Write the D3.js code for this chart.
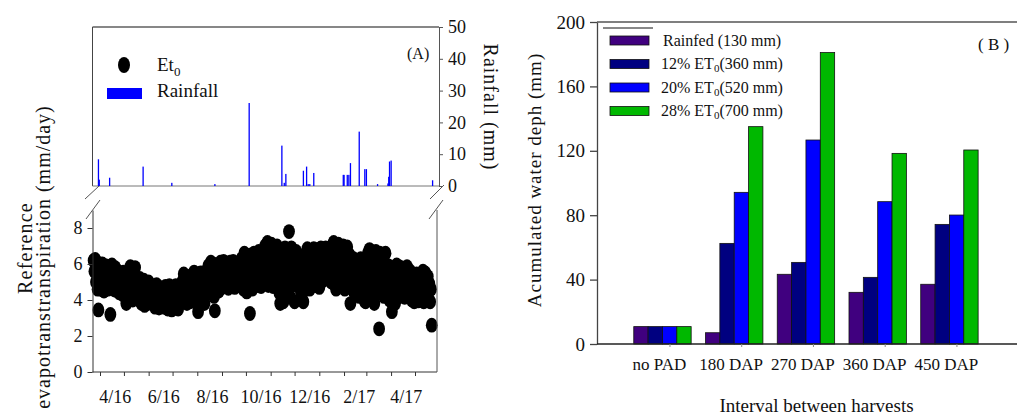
<!DOCTYPE html>
<html><head><meta charset="utf-8">
<script src="https://cdn.jsdelivr.net/npm/d3@7"></script>
<style>
body{margin:0;background:#fff}
svg{display:block;font-family:"Liberation Serif","Times New Roman",serif}
</style>
</head><body>
<svg id="c" width="1017" height="417"></svg>
<script>
// ---------------- DATA ----------------
const rainDates = ["2016-03-30","2016-03-31","2016-04-13","2016-05-25","2016-06-30","2016-08-23","2016-10-05","2016-11-15","2016-11-18","2016-11-20","2016-12-12","2016-12-16","2016-12-18","2016-12-20","2016-12-25","2017-01-31","2017-02-01","2017-02-05","2017-02-07","2017-02-09","2017-02-20","2017-02-27","2017-03-01","2017-03-15","2017-03-28","2017-03-29","2017-03-30","2017-04-01","2017-05-23"];
const rainValues = [8.4,2.0,2.6,6.1,1.0,0.6,26.1,12.7,1.0,3.8,4.8,6.1,0.6,0.6,4.1,3.5,3.5,3.5,3.5,7.2,17.1,5.3,5.3,0.6,0.8,2.9,7.7,8.0,1.8];

// daily reference evapotranspiration (mm/day), from 2016-03-24
const et0Start = "2016-03-24";
const et0StepDays = 1;
const et0Values = [
 6.2,5.6,6.25,5.0,5.8,4.6,3.45,5.3,6.0,
 4.6,5.5,6.0,5.1,4.5,5.7,4.9,5.9,5.3,4.6,5.8,5.0,
 3.2,5.5,5.95,4.8,5.3,4.55,5.8,5.1,4.7,5.6,
 5.0,4.4,5.5,4.8,5.2,4.3,5.55,4.6,5.0,5.4,3.8,4.5,5.1,
 5.5,4.2,5.85,4.7,5.3,4.0,5.6,4.9,5.8,4.4,5.2,4.6,
 5.0,4.0,5.2,4.5,3.8,4.8,4.2,5.1,3.7,4.6,4.9,4.1,3.8,5.0,4.4,3.9,4.7,4.3,
 4.8,3.9,4.5,3.6,4.2,4.85,3.8,4.4,3.55,4.7,4.1,3.7,4.6,4.0,3.6,4.3,
 4.75,3.9,4.4,3.5,4.1,4.8,3.7,4.3,3.45,4.6,4.0,3.6,4.5,4.8,3.8,4.2,3.5,4.7,4.0,3.9,
 4.4,5.0,3.9,5.45,4.6,4.1,5.2,3.8,4.8,5.3,4.3,3.9,5.0,4.5,
 5.4,4.2,5.55,4.8,3.9,5.1,4.5,3.35,5.3,4.6,5.5,4.0,4.9,5.5,4.3,3.8,5.2,4.7,5.5,
 5.0,5.9,4.4,5.5,6.1,4.8,5.3,6.0,4.2,3.4,5.6,4.6,5.9,5.1,4.5,5.7,
 6.1,5.3,4.7,5.8,6.15,5.0,5.5,4.8,6.0,5.6,4.65,5.2,6.1,5.7,4.9,5.4,6.15,5.0,4.7,5.9,5.3,6.0,4.8,5.5,6.1,5.1,
 4.9,6.3,5.5,4.6,6.6,5.9,5.1,4.45,6.2,5.6,4.8,3.25,6.5,5.3,4.6,5.9,6.6,5.0,6.2,5.5,
 4.8,6.1,6.7,5.4,5.9,4.75,6.4,5.2,6.7,5.7,
 7.0,5.6,6.5,7.2,4.8,6.0,6.8,5.3,7.1,6.3,4.75,5.8,6.9,5.1,6.5,7.0,
 6.5,5.2,4.4,3.8,5.9,4.7,6.2,
 3.9,5.5,6.9,4.5,6.2,5.0,6.6,7.8,4.2,5.8,6.9,4.8,6.4,5.4,3.9,6.0,6.7,
 6.5,4.8,5.9,6.4,5.2,4.4,6.2,5.6,3.9,5.0,6.5,4.6,6.0,
 6.85,5.3,6.3,4.6,6.7,5.8,5.0,6.5,6.85,5.5,4.8,6.2,6.8,5.2,5.9,4.7,6.4,
 6.9,5.8,5.05,6.6,6.2,5.4,6.9,6.0,5.2,6.5,6.8,5.6,6.3,5.0,6.7,6.1,
 7.2,5.2,6.4,4.6,6.9,5.8,7.1,5.0,6.2,6.8,4.8,5.6,7.0,
 6.9,4.6,6.3,5.4,6.95,4.9,5.8,6.5,3.8,5.1,6.0,
 5.8,6.3,4.4,5.5,6.2,4.9,5.2,6.0,4.2,5.7,6.3,4.6,5.0,6.1,5.4,3.95,3.9,5.9,4.8,
 6.6,5.2,6.8,4.5,6.2,5.6,4.2,6.5,3.8,5.0,6.7,4.6,5.9,
 5.6,2.4,6.6,4.4,6.1,5.2,6.4,4.2,5.8,6.6,4.8,5.4,
 4.6,5.9,4.0,5.4,4.9,3.35,5.3,4.2,5.8,3.8,5.0,5.95,4.5,
 4.8,5.85,4.2,5.5,5.8,4.4,5.1,5.7,4.15,5.3,4.7,5.85,4.9,5.4,4.3,5.6,5.0,
 4.0,5.4,4.6,3.9,5.3,4.9,5.45,4.3,3.95,5.1,4.5,5.4,4.1,
 4.2,5.6,3.9,5.0,5.5,4.3,4.7,5.3,4.0,4.9,3.9,4.6,
 2.6
];
const dateTickLabels = ["4/16","6/16","8/16","10/16","12/16","2/17","4/17"];
const dateLabelDates = ["2016-04-20","2016-06-20","2016-08-20","2016-10-20","2016-12-20","2017-02-20","2017-04-20"];
const rainTicks = [0,10,20,30,40,50];
const et0Ticks = [0,2,4,6,8];

const categories = ["no PAD","180 DAP","270 DAP","360 DAP","450 DAP"];
const seriesNames = ["Rainfed (130 mm)","12% ET0 (360 mm)","20% ET0 (520 mm)","28% ET0 (700 mm)"];
const rainfed = [10.8,7.0,43.3,32.1,37.1];
const et12 = [10.8,62.5,50.7,41.4,74.3];
const et20 = [10.8,94.2,126.7,88.4,80.1];
const et28 = [10.8,135,181,118.4,120.5];
const waterTicks = [0,40,80,120,160,200];

// ---------------- DRAW ----------------
const svg = d3.select("#c");
const parse = d3.utcParse("%Y-%m-%d");
const AX = "#333";

// Panel A scales
const x = d3.scaleUtc().domain([Date.UTC(2016,3,1), Date.UTC(2017,4,1)]).range([100,415]);
const yR = d3.scaleLinear().domain([0,50]).range([186,27]);
const yE = d3.scaleLinear().domain([0,9]).range([372,210]);
const L = 92.5, RT = 439, RB = 437;

// top panel frame
svg.append("line").attr("x1",L).attr("x2",RT).attr("y1",27).attr("y2",27).attr("stroke","#111").attr("stroke-width",1.2);
svg.append("line").attr("x1",L).attr("x2",L).attr("y1",27).attr("y2",186).attr("stroke","#444").attr("stroke-width",1);
svg.append("line").attr("x1",L).attr("x2",RT).attr("y1",186).attr("y2",186).attr("stroke","#777").attr("stroke-width",1);

// rainfall bars
const rain = rainDates.map((d,i)=>({d:parse(d), v:rainValues[i]}));
svg.append("g").selectAll("rect").data(rain).join("rect")
  .attr("x", d=>x(d.d)-0.6).attr("width",1.3)
  .attr("y", d=>yR(d.v)).attr("height", d=>yR(0)-yR(d.v))
  .attr("fill","#0000ff");

// right axis
const rAx = svg.append("g").attr("transform",`translate(${RT},0)`)
  .call(d3.axisRight(yR).tickValues(rainTicks).tickSize(4).tickPadding(5).tickSizeOuter(0));
rAx.select(".domain").attr("stroke","#555");
rAx.selectAll(".tick line").attr("stroke","#555");
rAx.selectAll("text").attr("font-size",18).attr("fill","#111").attr("font-family","Liberation Serif");

// bottom panel
const et = et0Values.map((v,i)=>({d:d3.utcDay.offset(parse(et0Start), i*et0StepDays), v}));
svg.append("g").selectAll("ellipse").data(et).join("ellipse")
  .attr("cx", d=>x(d.d)).attr("cy", d=>yE(d.v)).attr("rx",5.9).attr("ry",7.4).attr("fill","#000");

const lAx = svg.append("g").attr("transform",`translate(${L},0)`)
  .call(d3.axisLeft(yE).tickValues(et0Ticks).tickSize(5).tickPadding(5).tickSizeOuter(0));
lAx.select(".domain").attr("stroke",AX);
lAx.selectAll(".tick line").attr("stroke",AX);
lAx.selectAll("text").attr("font-size",18).attr("fill","#111").attr("font-family","Liberation Serif");

svg.append("line").attr("x1",L).attr("x2",RB).attr("y1",372).attr("y2",372).attr("stroke",AX).attr("stroke-width",1);
svg.append("line").attr("x1",RB).attr("x2",RB).attr("y1",210).attr("y2",372).attr("stroke","#555").attr("stroke-width",1);

const months = d3.utcMonth.range(Date.UTC(2016,3,1), Date.UTC(2017,5,1));
const bAx = svg.append("g").attr("transform","translate(0,372)")
  .call(d3.axisBottom(x).tickValues(months).tickFormat("").tickSize(4).tickSizeOuter(0));
bAx.select(".domain").remove();
bAx.selectAll(".tick line").attr("stroke",AX);

svg.append("g").selectAll("text").data(dateLabelDates).join("text")
  .attr("x", d=>x(parse(d))).attr("y",403).attr("text-anchor","middle")
  .attr("font-size",18).attr("fill","#111")
  .text((d,i)=>dateTickLabels[i]);

// break marks
[[85,199,99,186],[86,219,100,200],[430,199,444,185],[429,219,443,200]].forEach(s=>{
  svg.append("line").attr("x1",s[0]).attr("y1",s[1]).attr("x2",s[2]).attr("y2",s[3]).attr("stroke","#555").attr("stroke-width",1);
});

// legend A
svg.append("ellipse").attr("cx",124).attr("cy",65).attr("rx",6).attr("ry",8).attr("fill","#000");
const etL = svg.append("text").attr("x",157).attr("y",71).attr("font-size",19).attr("fill","#111");
etL.append("tspan").text("Et");
etL.append("tspan").attr("font-size",13).attr("dy",5).text("0");
svg.append("rect").attr("x",107).attr("y",88).attr("width",35).attr("height",11).attr("fill","#0000ff");
svg.append("text").attr("x",157).attr("y",97).attr("font-size",19).attr("fill","#111").text("Rainfall");
svg.append("text").attr("x",407).attr("y",59).attr("font-size",16).attr("fill","#111").text("(A)");

// axis titles A
svg.append("text").attr("transform","translate(32,248) rotate(-90)").attr("text-anchor","middle")
  .attr("font-size",20).attr("letter-spacing",1.2).attr("fill","#111").text("Reference");
svg.append("text").attr("transform","translate(50,257) rotate(-90)").attr("text-anchor","middle")
  .attr("font-size",20).attr("letter-spacing",1).attr("fill","#111").text("evapotranstranspiration (mm/day)");
svg.append("text").attr("transform","translate(484,107) rotate(90)").attr("text-anchor","middle")
  .attr("font-size",20).attr("letter-spacing",1).attr("fill","#111").text("Rainfall (mm)");

// ---------------- Panel B ----------------
const BL = 597;
const yW = d3.scaleLinear().domain([0,200]).range([344,22]);
const xB = d3.scaleBand().domain(categories).range([626.6,985.3]).paddingInner(0.2).paddingOuter(0.1);
const colors = ["#40007f","#000080","#0000ff","#00b800"];
const seriesVals = [rainfed, et12, et20, et28];
const x1 = d3.scaleBand().domain(d3.range(seriesVals.length)).range([0, xB.bandwidth()]);

svg.append("line").attr("x1",BL).attr("x2",1017).attr("y1",22).attr("y2",22).attr("stroke","#555").attr("stroke-width",1.3);

const gB = svg.append("g");
categories.forEach((c,ci)=>{
  gB.append("g").attr("transform",`translate(${xB(c)},0)`)
    .selectAll("rect").data(seriesVals.map((s,si)=>({si, v:s[ci]}))).join("rect")
    .attr("x", d=>x1(d.si)).attr("width", x1.bandwidth())
    .attr("y", d=>yW(d.v)).attr("height", d=>yW(0)-yW(d.v))
    .attr("fill", d=>colors[d.si]).attr("stroke","#111").attr("stroke-width",0.8);
});

const wAx = svg.append("g").attr("transform",`translate(${BL},0)`)
  .call(d3.axisLeft(yW).tickValues(waterTicks).tickSize(7).tickPadding(5).tickSizeOuter(0));
wAx.select(".domain").attr("stroke","#444").attr("stroke-width",1.3);
wAx.selectAll(".tick line").attr("stroke","#444").attr("stroke-width",1.3);
wAx.selectAll("text").attr("font-size",19).attr("fill","#111").attr("font-family","Liberation Serif");

svg.append("line").attr("x1",BL).attr("x2",1017).attr("y1",344).attr("y2",344).attr("stroke","#222").attr("stroke-width",1.3);
svg.append("g").selectAll("line").data(categories).join("line")
  .attr("x1", d=>xB(d)+xB.bandwidth()/2+7.5).attr("x2", d=>xB(d)+xB.bandwidth()/2+7.5)
  .attr("y1",344).attr("y2",347).attr("stroke","#888");
svg.append("g").selectAll("text").data(categories).join("text")
  .attr("x", d=>xB(d)+xB.bandwidth()/2-3).attr("y",370).attr("text-anchor","middle")
  .attr("font-size",17).attr("fill","#111").text(d=>d);

svg.append("text").attr("x",816.5).attr("y",412).attr("text-anchor","middle")
  .attr("font-size",19).attr("fill","#111").text("Interval between harvests");
svg.append("text").attr("transform","translate(541,180) rotate(-90)").attr("text-anchor","middle")
  .attr("font-size",19).attr("letter-spacing",1).attr("fill","#111").text("Acumulated water deph (mm)");

// legend B
svg.append("line").attr("x1",603).attr("x2",653).attr("y1",28).attr("y2",28).attr("stroke","#111").attr("stroke-width",1);
const legY = [36,59.5,83,106.5];
seriesNames.forEach((n,i)=>{
  svg.append("rect").attr("x",610).attr("y",legY[i]).attr("width",39).attr("height",9)
    .attr("fill",colors[i]).attr("stroke","#111").attr("stroke-width",0.8);
  const t = svg.append("text").attr("x", i===0?663:661).attr("y",legY[i]+9.5).attr("font-size",16).attr("fill","#111");
  const m = n.match(/^(.*ET)0 (.*)$/);
  if (m) {
    t.append("tspan").text(m[1]);
    t.append("tspan").attr("font-size",11).attr("dy",3).text("0");
    t.append("tspan").attr("dy",-3).text(m[2]);
  } else {
    t.text(n.replace(" (","  ("));
  }
});
svg.append("text").attr("x",978).attr("y",50).attr("font-size",17).attr("fill","#111").attr("xml:space","preserve").text("( B )");
</script>
</body></html>
